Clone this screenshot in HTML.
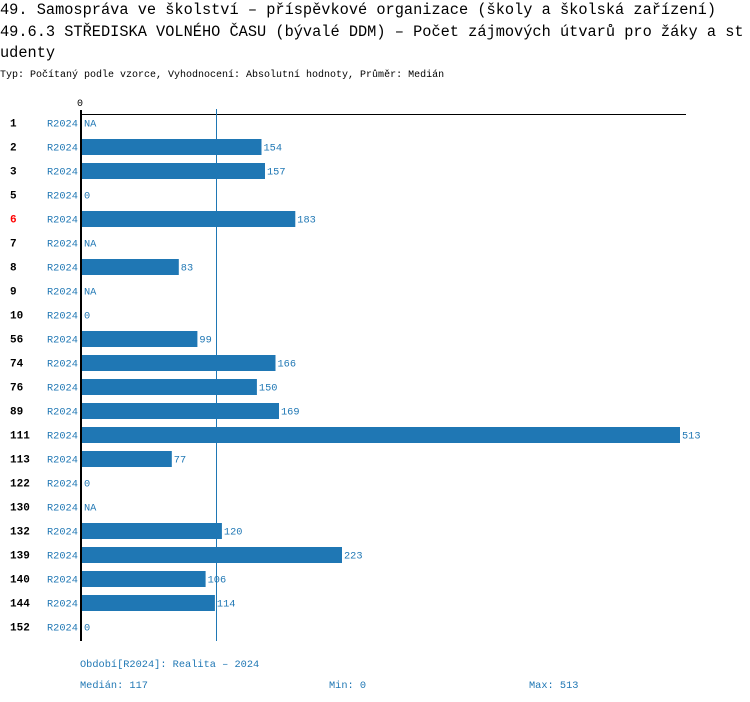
<!DOCTYPE html>
<html><head><meta charset="utf-8"><style>
body{margin:0;background:#fff}
svg{display:block}
text{font-family:"Liberation Mono","DejaVu Sans Mono",monospace}
.t{font-size:15.3px;fill:#000}
.s{font-size:10px;fill:#000}
.r{font-size:10.3px;fill:#1f77b4}
.n{font-size:11px;font-weight:bold;fill:#000}
.f{font-size:10.3px;fill:#1f77b4}
</style></head><body>
<svg width="750" height="702" xmlns="http://www.w3.org/2000/svg">
<text class="t" x="0" y="14">49. Samospráva ve školství – příspěvkové organizace (školy a školská zařízení)</text>
<text class="t" x="0" y="36">49.6.3 STŘEDISKA VOLNÉHO ČASU (bývalé DDM) – Počet zájmových útvarů pro žáky a st</text>
<text class="t" x="0" y="57">udenty</text>
<text class="s" x="0" y="77">Typ: Počítaný podle vzorce, Vyhodnocení: Absolutní hodnoty, Průměr: Medián</text>
<text class="s" x="77" y="106">0</text>
<line x1="80" y1="114.5" x2="686" y2="114.5" stroke="#000" stroke-width="1"/>
<line x1="216.5" y1="109" x2="216.5" y2="641" stroke="#1f77b4" stroke-width="1"/>
<g id="rows"></g>
<line x1="81" y1="110" x2="81" y2="641" stroke="#000" stroke-width="2"/>
<text class="f" x="80" y="667">Období[R2024]: Realita – 2024</text>
<text class="f" x="80" y="688">Medián: 117</text>
<text class="f" x="329" y="688">Min: 0</text>
<text class="f" x="529" y="688">Max: 513</text>
</svg>
<script>
var d=[["1",null],["2",154],["3",157],["5",0],["6",183],["7",null],["8",83],["9",null],["10",0],["56",99],["74",166],["76",150],["89",169],["111",513],["113",77],["122",0],["130",null],["132",120],["139",223],["140",106],["144",114],["152",0]];
var g=document.getElementById("rows"),h="";
d.forEach(function(r,i){var c=123+i*24;
h+='<text class="n" x="10" y="'+(c+3.5)+'"'+(r[0]=="6"?' style="fill:#ff0000"':'')+'>'+r[0]+'</text>';
h+='<text class="r" x="47" y="'+(c+3.5)+'">R2024</text>';
if(r[1]===null){h+='<text class="r" x="84" y="'+(c+3.5)+'">NA</text>';}
else{var w=r[1]*1.1657;if(w>0)h+='<rect x="82" y="'+(c-8)+'" width="'+w.toFixed(1)+'" height="16" fill="#1f77b4"/>';
h+='<text class="r" x="'+(82+w+2).toFixed(1)+'" y="'+(c+3.5)+'">'+r[1]+'</text>';}
});
g.innerHTML=h;
</script>
</body></html>
